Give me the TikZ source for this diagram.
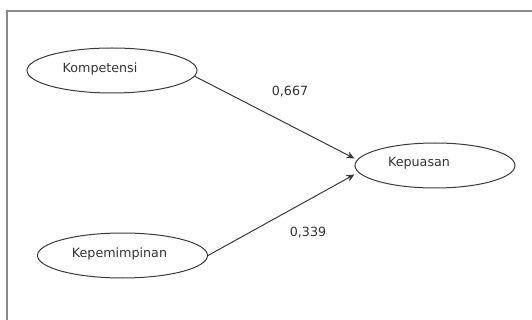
\documentclass[tikz,border=0pt]{standalone}
\usepackage{fontspec}
\setmainfont{DejaVu Sans}
\usetikzlibrary{shapes.geometric, arrows.meta}
\definecolor{linegray}{HTML}{3A3A3A}
\definecolor{textgray}{HTML}{333333}
\definecolor{framegray}{HTML}{8A8A8A}
\tikzset{
  latent/.style={ellipse, draw=linegray, line width=1pt, minimum width=170pt,
    minimum height=45pt, inner sep=0pt},
  weight/.style={text=textgray, inner sep=0pt, font=\fontsize{12.7}{14}\selectfont},
  path/.style={->, draw=linegray, line width=1pt}
}
\begin{document}
\begin{tikzpicture}[x=1pt, y=-1pt, >={Stealth[length=8pt, width=7pt]}]
  \useasboundingbox (0,0) rectangle (532,320);
  \clip (0,0) rectangle (532,320);
  \draw[framegray, line width=1.5pt] (7,11) rectangle (545,335);
  % latent variables, names set a bit left of centre as in the output
  \node[latent, label={[weight, name=komptext, xshift=-12pt, yshift=2pt]center:Kompetensi}]
    (komp) at (112,70.5) {};
  \node[latent, label={[weight, name=kepemtext, xshift=-3pt, yshift=2pt]center:Kepemimpinan}]
    (kepem) at (122.5,255.5) {};
  \node[latent, minimum width=160pt, label={[weight, name=puastext, xshift=-16pt, yshift=2pt]center:Kepuasan}]
    (puas) at (435,165.5) {};
  \coordinate (in1) at ([yshift=7pt]puas.west);
  \coordinate (in2) at ([yshift=-9pt]puas.west);
  \draw[path] (komp.-4) -- (in1);
  \draw[path] (kepem.east) -- (in2);
  \node[weight] (w1) at (290,92) {0,667};
  \node[weight] (w2) at (308,233) {0,339};
\end{tikzpicture}
\end{document}
